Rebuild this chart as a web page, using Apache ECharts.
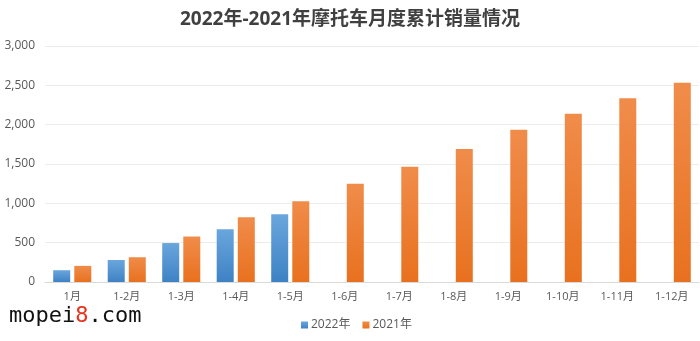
<!DOCTYPE html>
<html><head><meta charset="utf-8">
<script src="https://cdn.jsdelivr.net/npm/echarts@6/dist/echarts.min.js"></script>
<style>html,body{margin:0;padding:0;background:#fff}#c{width:700px;height:341px}</style>
</head><body><div id="c"></div>
<script>
const categories = ['1月','1-2月','1-3月','1-4月','1-5月','1-6月','1-7月','1-8月','1-9月','1-10月','1-11月','1-12月'];
const sales2022 = [150, 280, 495, 670, 860, null, null, null, null, null, null, null];
const sales2021 = [205, 315, 578, 822, 1025, 1250, 1465, 1690, 1935, 2140, 2335, 2533];
const yTicks = [0, 500, 1000, 1500, 2000, 2500, 3000];

const chart = echarts.init(document.getElementById('c'));
const font = '"Open Sans","Noto Sans CJK SC",sans-serif';
chart.setOption({
  animation: false,
  title: {
    text: '2022年-2021年摩托车月度累计销量情况',
    left: 'center', top: 5,
    textStyle: { fontSize: 19, fontWeight: 'bold', color: '#404040', fontFamily: font }
  },
  legend: {
    bottom: 5, left: 296,
    itemWidth: 7, itemHeight: 7, itemGap: 12,
    icon: 'rect',
    textStyle: { fontSize: 12, color: '#595959', fontFamily: font, padding: [0,0,0,-2] },
    data: ['2022年', '2021年']
  },
  grid: { left: 45, right: 1, top: 46, bottom: 59 },
  xAxis: {
    type: 'category', data: categories,
    axisLine: { lineStyle: { color: '#d9d9d9' } },
    axisTick: { show: false },
    axisLabel: { color: '#595959', fontSize: 11, fontFamily: font, margin: 9 }
  },
  yAxis: {
    type: 'value', min: yTicks[0], max: yTicks[yTicks.length-1], interval: 500,
    axisLine: { show: false }, axisTick: { show: false },
    splitLine: { lineStyle: { color: '#ececec' } },
    axisLabel: { color: '#595959', fontSize: 12, fontFamily: font, margin: 10,
      formatter: v => v.toLocaleString('en-US') }
  },
  series: [
    { name: '2022年', type: 'bar', data: sales2022, barWidth: 17, barGap: '24%',
      itemStyle: { color: new echarts.graphic.LinearGradient(0,0,0,1,[
        {offset:0,color:'#6aa6dd'},{offset:1,color:'#3e82c4'}]) } },
    { name: '2021年', type: 'bar', data: sales2021, barWidth: 17,
      itemStyle: { color: new echarts.graphic.LinearGradient(0,0,0,1,[
        {offset:0,color:'#f08c4a'},{offset:1,color:'#e8711f'}]) } }
  ],
  color: ['#4a8fd0', '#ed7d31'],
  graphic: [{
    type: 'text', left: 9, top: 305,
    style: {
      text: '{a|mopei}{b|8}{a|.com}',
      rich: {
        a: { fontFamily: '"DejaVu Sans Mono",monospace', fontSize: 22, fill: '#111' },
        b: { fontFamily: '"DejaVu Sans Mono",monospace', fontSize: 22, fill: '#e8321e' }
      }
    }
  }]
});
</script></body></html>
